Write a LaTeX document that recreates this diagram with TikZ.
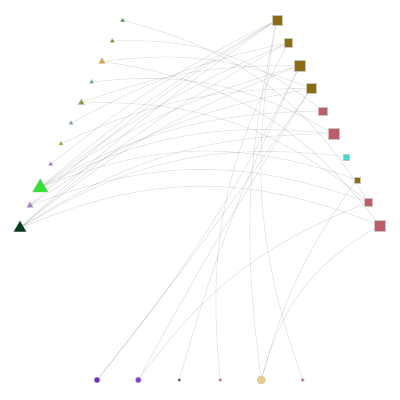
\documentclass[tikz,border=0pt]{standalone}
\usepackage{tikz}
\usetikzlibrary{shapes.geometric, backgrounds}
\definecolor{goldbrown}{RGB}{139,108,18}
\definecolor{rosered}{RGB}{190,92,104}
\definecolor{aquacyan}{RGB}{48,228,210}
\definecolor{leafgreen}{RGB}{58,150,60}
\definecolor{olivebrown}{RGB}{150,120,30}
\definecolor{mustard}{RGB}{214,168,52}
\definecolor{seagreen}{RGB}{84,176,128}
\definecolor{olivegreen}{RGB}{138,156,48}
\definecolor{grayteal}{RGB}{112,160,144}
\definecolor{oliveyellow}{RGB}{164,160,36}
\definecolor{lilac}{RGB}{164,98,208}
\definecolor{limegreen}{RGB}{48,226,48}
\definecolor{lavender}{RGB}{164,128,196}
\definecolor{pinegreen}{RGB}{0,56,32}
\definecolor{violet1}{RGB}{112,48,192}
\definecolor{violet2}{RGB}{132,64,210}
\definecolor{forest}{RGB}{16,80,32}
\definecolor{coral}{RGB}{212,80,96}
\definecolor{sand}{RGB}{232,204,136}
\definecolor{magentapink}{RGB}{196,64,128}
\tikzset{
    tri/.style={regular polygon, regular polygon sides=3, draw=gray!45, line width=0.4pt, inner sep=0pt},
    sq/.style={rectangle, draw=gray!45, line width=0.4pt, inner sep=0pt},
    dot/.style={circle, draw=gray!45, line width=0.4pt, inner sep=0pt},
    edge/.style={draw=black, opacity=0.1, line width=0.7pt}
}

\begin{document}
\begin{tikzpicture}[x=1pt, y=1pt]
            \useasboundingbox (0,0) rectangle (400,-400);

            % triangles, left axis
            \node[tri, fill=leafgreen, minimum size=5pt] (t1) at (122.7,-20.5) {};
            \node[tri, fill=olivebrown, minimum size=5pt] (t2) at (112.3,-41) {};
            \node[tri, fill=mustard, minimum size=7.5pt] (t3) at (102,-61.5) {};
            \node[tri, fill=seagreen, minimum size=5pt] (t4) at (91.7,-82) {};
            \node[tri, fill=olivegreen, minimum size=7.5pt] (t5) at (81.3,-102.8) {};
            \node[tri, fill=grayteal, minimum size=5pt] (t6) at (71,-123.2) {};
            \node[tri, fill=oliveyellow, minimum size=5pt] (t7) at (61,-143.7) {};
            \node[tri, fill=lilac, minimum size=5pt] (t8) at (50.7,-164.2) {};
            \node[tri, fill=limegreen, minimum size=18pt] (t9) at (40.3,-187.5) {};
            \node[tri, fill=lavender, minimum size=7.5pt] (t10) at (30,-205.5) {};
            \node[tri, fill=pinegreen, minimum size=15pt] (t11) at (20,-228) {};

            % squares, right axis
            \node[sq, fill=goldbrown, minimum size=10.5pt] (s1) at (277,-20) {};
            \node[sq, fill=goldbrown, minimum size=8.3pt] (s2) at (288.3,-42.7) {};
            \node[sq, fill=goldbrown, minimum size=10.5pt] (s3) at (299.7,-65.7) {};
            \node[sq, fill=goldbrown, minimum size=10.5pt] (s4) at (311,-88.3) {};
            \node[sq, fill=rosered, minimum size=8.5pt] (s5) at (322.7,-111) {};
            \node[sq, fill=rosered, minimum size=10.8pt] (s6) at (334,-133.7) {};
            \node[sq, fill=aquacyan, minimum size=6pt] (s7) at (345.7,-156.7) {};
            \node[sq, fill=goldbrown, minimum size=6pt] (s8) at (357,-179.7) {};
            \node[sq, fill=rosered, minimum size=8.5pt] (s9) at (368.3,-202.3) {};
            \node[sq, fill=rosered, minimum size=10.8pt] (s10) at (379.7,-225.3) {};

            % circles, bottom axis
            \node[dot, fill=violet1, minimum size=6pt] (c1) at (97,-380) {};
            \node[dot, fill=violet2, minimum size=6pt] (c2) at (138.3,-380) {};
            \node[dot, fill=forest, minimum size=3.3pt] (c3) at (179.3,-380) {};
            \node[dot, fill=coral, minimum size=3.3pt] (c4) at (220.3,-380) {};
            \node[dot, fill=sand, minimum size=8.3pt] (c5) at (261.3,-380) {};
            \node[dot, fill=magentapink, minimum size=3.3pt] (c6) at (302.7,-380) {};

            \begin{scope}[on background layer]
                % triangles to squares
                \draw[edge] (t1) to[bend left=22] (s9);
                \draw[edge] (t2) to[bend left=20] (s5);
                \draw[edge] (t3) to[bend left=14] (s4);
                \draw[edge] (t3) to[bend left=22] (s10);
                \draw[edge] (t4) to[bend left=18] (s6);
                \draw[edge] (t5) to[bend left=10] (s3);
                \draw[edge] (t5) to[bend left=20] (s9);
                \draw[edge] (t6) to[bend left=8] (s2);
                \draw[edge] (t7) to[bend left=12] (s4);
                \draw[edge] (t8) to[bend left=6] (s1);
                \draw[edge] (t9) to[bend left=5] (s1);
                \draw[edge] (t9) to[bend left=7] (s2);
                \draw[edge] (t9) to[bend left=9] (s3);
                \draw[edge] (t9) to[bend left=14] (s5);
                \draw[edge] (t9) to[bend left=16] (s6);
                \draw[edge] (t9) to[bend left=20] (s8);
                \draw[edge] (t10) to[bend left=5] (s1);
                \draw[edge] (t10) to[bend left=12] (s4);
                \draw[edge] (t10) to[bend left=20] (s9);
                \draw[edge] (t11) to[bend left=4] (s1);
                \draw[edge] (t11) to[bend left=6] (s2);
                \draw[edge] (t11) to[bend left=9] (s3);
                \draw[edge] (t11) to[bend left=16] (s6);
                \draw[edge] (t11) to[bend left=19] (s7);
                \draw[edge] (t11) to[bend left=22] (s10);
                % circles to squares
                \draw[edge] (c1) to[bend right=6] (s3);
                \draw[edge] (c1) to[bend right=2] (s4);
                \draw[edge] (c2) to[bend left=2] (s4);
                \draw[edge] (c2) to[bend left=16] (s9);
                \draw[edge] (c3) to[bend left=5] (s3);
                \draw[edge] (c4) to[bend left=17] (s2);
                \draw[edge] (c5) to[bend left=10] (s1);
                \draw[edge] (c5) to[bend left=10] (s8);
                \draw[edge] (c5) to[bend left=22] (s10);
                \draw[edge] (c6) to[bend left=15] (s1);
            \end{scope}
        \end{tikzpicture}
\end{document}
